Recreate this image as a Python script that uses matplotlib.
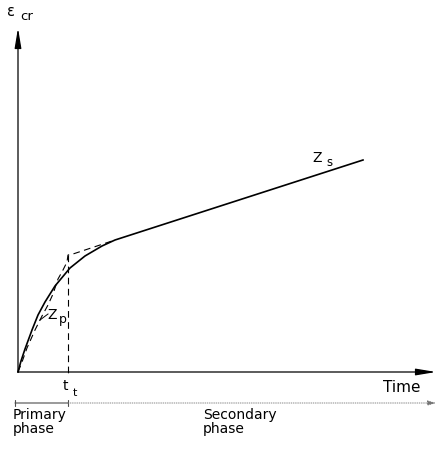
import matplotlib.pyplot as plt

# schematic creep curve, arbitrary units
t_curve = [0, 3, 7, 14, 20, 27, 37, 52, 67, 84, 97, 345]
eps_curve = [0, 11, 23, 42, 57, 70, 86, 104, 116, 126, 132, 212]
t_approx = [0, 4, 9, 17, 24, 30, 35, 40, 45, 49, 50, 55, 67, 82, 97]
eps_approx = [0, 10, 24, 42, 56, 67, 78, 93, 102, 110, 117, 118, 122, 127, 132]
t_t = 50
t_max = 418
eps_max = 344

fig = plt.figure(figsize=(4.37, 4.58), dpi=100)
ax = fig.add_axes([0, 0, 1, 1])
ax.set_xlim(-18, 419)
ax.set_ylim(-86, 372)
ax.axis("off")

# axes with arrows
arr = dict(arrowstyle="-|>,head_length=1.2,head_width=0.2", lw=0.9, color="black", shrinkA=0, shrinkB=0)
ax.annotate("", xy=(t_max, 0), xytext=(0, 0), arrowprops=arr)
ax.annotate("", xy=(0, eps_max), xytext=(0, 0), arrowprops=arr)

ax.plot(t_curve, eps_curve, color="black", lw=1.2)
ax.plot(t_approx, eps_approx, color="black", lw=0.8, ls=(0, (6, 4)))
ax.plot([t_t, t_t], [eps_approx[10], -5], color="black", lw=0.8, ls=(0, (6, 4)))

# leader for Zp
ax.plot([22, 30], [52, 58], color="black", lw=0.7)

fs = 10
ax.text(-11, 361, "ε", fontsize=10.5, ha="left", va="center")
ax.text(9, 355, "cr", fontsize=9.5, ha="center", va="center")
ax.text(384, -16, "Time", fontsize=11, ha="center", va="center")
ax.text(t_t - 3, -14, "t", fontsize=fs, ha="center", va="center")
ax.text(t_t + 7, -21, "t", fontsize=8, ha="center", va="center")
ax.text(299, 214, "Z", fontsize=fs, ha="center", va="center")
ax.text(311, 209, "s", fontsize=8.5, ha="center", va="center")
ax.text(34, 57, "Z", fontsize=fs, ha="center", va="center")
ax.text(45, 53, "p", fontsize=9, ha="center", va="center")

# phase bar
yb = -31
ax.annotate("", xy=(t_t, yb), xytext=(-3, yb),
            arrowprops=dict(arrowstyle="|-|,widthA=0.2,widthB=0.2", lw=0.8, color="0.3",
                            shrinkA=0, shrinkB=0))
ax.annotate("", xy=(t_max, yb), xytext=(t_t, yb),
            arrowprops=dict(arrowstyle="-|>,head_length=0.5,head_width=0.15", lw=0.6, color="0.45",
                            ls=":", shrinkA=0, shrinkB=0))
ax.text(-5, -50, "Primary\nphase", fontsize=10, ha="left", va="center", linespacing=1.05)
ax.text(185, -50, "Secondary\nphase", fontsize=10, ha="left", va="center", linespacing=1.05)

fig.savefig("out.png", dpi=100)
